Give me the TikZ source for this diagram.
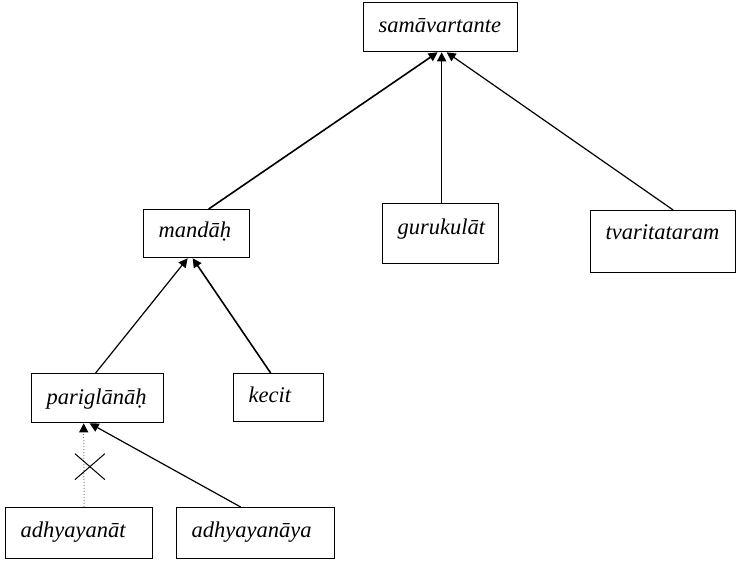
\documentclass[tikz,border=0pt]{standalone}
\usepackage{fontspec}
\setmainfont{Liberation Serif}
\usetikzlibrary{arrows.meta,calc}
\tikzset{
  caja/.style={draw,line width=1.3pt,anchor=north west,inner xsep=15pt,inner ysep=0pt,
               align=left,font=\fontsize{22.5}{24}\selectfont\itshape},
  flecha/.style={-{Triangle[length=9pt,width=9pt]},line width=1.6pt},
  flechap/.style={-{Triangle[length=9pt,width=9pt,black]},dotted,draw=gray,line width=1pt},
  cruz/.style={line width=1pt},
}
\begin{document}
\begin{tikzpicture}[x=1pt,y=-1pt]
\useasboundingbox (0,0) rectangle (737,561);

\node[caja,text width=124pt,text height=30pt,text depth=19pt] (raiz)  at (363,2)   {samāvartante};
\node[caja,text width=76pt, text height=28pt,text depth=20pt] (mandah) at (143,209) {mandāḥ};
\node[caja,text width=86pt, text height=31pt,text depth=29pt] (guru)  at (382,203) {gurukulāt};
\node[caja,text width=115pt,text height=29pt,text depth=33pt] (tvari) at (590,210) {tvaritataram};
\node[caja,text width=102pt,text height=31pt,text depth=18pt] (parig) at (31,373)  {pariglānāḥ};
\node[caja,text width=60pt, text height=29pt,text depth=19pt] (kecit) at (233,373) {kecit};
\node[caja,text width=117pt,text height=30pt,text depth=21pt] (adhat) at (5,507)   {adhyayanāt};
\node[caja,text width=128pt,text height=30pt,text depth=21pt] (adhaya) at (176,507) {adhyayanāya};

\draw[flecha] ([xshift=12pt]mandah.north) -- ([xshift=-3pt]raiz.south);
\draw[flecha] ([xshift=1pt]guru.north)    -- ([xshift=1pt]raiz.south);
\draw[flecha,line width=1.2pt] ([xshift=10pt]tvari.north) -- ([xshift=6pt]raiz.south);
\draw[flecha,line width=1.2pt] ([xshift=-2pt]parig.north) -- ([xshift=-9pt]mandah.south);
\draw[flecha] ([xshift=-8pt]kecit.north)  -- ([xshift=-4pt]mandah.south);
\draw[flechap] ([xshift=5pt]adhat.north)  -- ([xshift=-14pt]parig.south);
\draw[flecha,line width=1.2pt] ([xshift=-15pt]adhaya.north) -- ([xshift=-8pt]parig.south);

% enlace bloqueado
\coordinate (corte) at ($(adhat.north)!0.5!(parig.south)+(1.5,1.5)$);
\draw[cruz] ([shift={(-15,-13)}]corte) -- ([shift={(15,13)}]corte);
\draw[cruz] ([shift={(-15,13)}]corte) -- ([shift={(15,-13)}]corte);

\end{tikzpicture}
\end{document}
